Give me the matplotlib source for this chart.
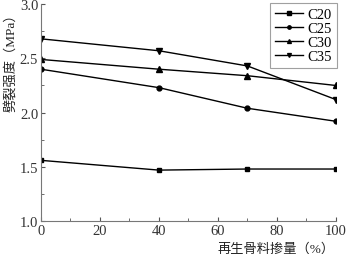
import matplotlib
matplotlib.use('Agg')
import matplotlib.pyplot as plt
from matplotlib.ticker import MultipleLocator

plt.rcParams['font.family'] = ['Liberation Serif', 'Noto Sans CJK SC']

# recycled aggregate content (%)
x = [0, 40, 70, 100]
c20 = [1.56, 1.47, 1.48, 1.48]
c25 = [2.40, 2.23, 2.04, 1.92]
c30 = [2.49, 2.40, 2.34, 2.25]
c35 = [2.68, 2.57, 2.43, 2.12]

fig = plt.figure(figsize=(3.47, 2.55), dpi=100)
ax = fig.add_axes([0.118, 0.129, 0.85, 0.851])

ax.plot(x, c20, 'k-s', lw=1, ms=3.5, label='C20')
ax.plot(x, c25, 'k-o', lw=1, ms=3.5, label='C25')
ax.plot(x, c30, 'k-^', lw=1, ms=4, label='C30')
ax.plot(x, c35, 'k-v', lw=1, ms=4, label='C35')

ax.set_xlim(0, 100)
ax.set_ylim(1.0, 3.0)
ax.xaxis.set_major_locator(MultipleLocator(20))
ax.xaxis.set_minor_locator(MultipleLocator(10))
ax.yaxis.set_major_locator(MultipleLocator(0.5))
ax.yaxis.set_minor_locator(MultipleLocator(0.25))
ax.yaxis.set_major_formatter(plt.FormatStrFormatter('%.1f'))
ax.tick_params(which='both', direction='in', colors='#555555', labelcolor='#333333', labelsize=10.5)
ax.tick_params(which='major', length=3, pad=2)
ax.tick_params(which='minor', length=2)
ax.spines['top'].set_visible(False)
ax.spines['right'].set_visible(False)
for s in ('left', 'bottom'):
    ax.spines[s].set_color('#777777')
    ax.spines[s].set_linewidth(0.8)

ax.set_xlabel('再生骨料掺量（%）', fontsize=9.5, color='#222222')
ax.set_ylabel('劈裂强度（MPa）', fontsize=9.5, color='#222222')
ax.xaxis.set_label_coords(0.797, -0.097)
ax.yaxis.set_label_coords(-0.082, 0.747)

leg = ax.legend(loc='upper right', bbox_to_anchor=(1.003, 1.005), borderaxespad=0,
                fontsize=10.5, handlelength=1.9, handletextpad=0.3, labelspacing=0.05,
                borderpad=0.35, fancybox=False, edgecolor='#888888', markerscale=0.7)
leg.get_frame().set_linewidth(0.8)

fig.savefig('out.png', dpi=100)
